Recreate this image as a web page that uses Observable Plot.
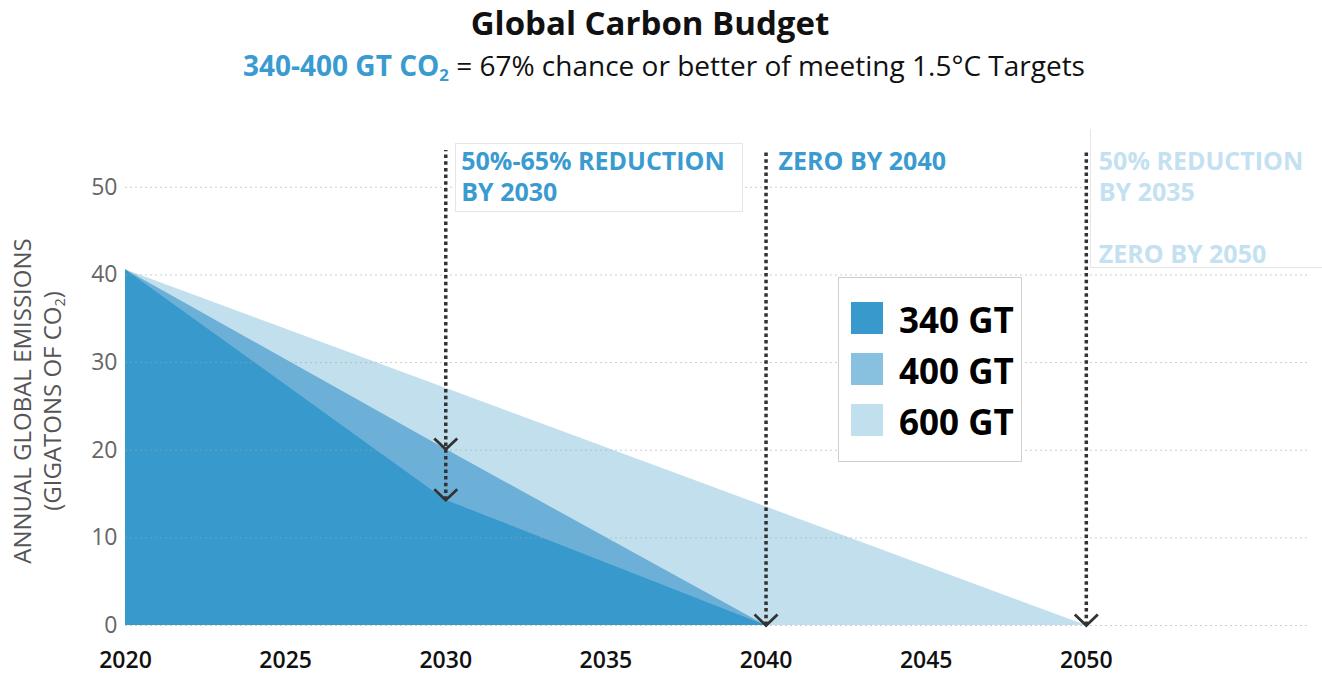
<!DOCTYPE html>
<html>
<head>
<meta charset="utf-8">
<script src="https://cdn.jsdelivr.net/npm/d3@7"></script>
<script src="https://cdn.jsdelivr.net/npm/@observablehq/plot@0.6"></script>
<style>
  html, body { margin: 0; padding: 0; background: #fff; }
  #chart { position: relative; width: 1322px; height: 677px; overflow: hidden; font-family: 'Open Sans', sans-serif; }
  .abs { position: absolute; white-space: nowrap; }
  .title { left: 0; width: 1300px; text-align: center; font-size: 33px; line-height: normal; font-weight: 700; color: #111; }
  .subtitle { left: 0; width: 1328px; text-align: center; font-size: 28px; line-height: normal; font-weight: 400; color: #111; }
  .hl { color: #3a9bd0; font-weight: 700; }
  sub { font-size: 0.6em; vertical-align: -0.3em; line-height: 0; }
  .note { font-size: 25px; line-height: 31px; font-weight: 700; }
  .box { border: 1px solid #e6e6e6; background: #fff; }
  .ylab { font-size: 24px; line-height: 30px; color: #555; text-align: center; transform: rotate(-90deg); transform-origin: center center; }
  .legend { border: 1px solid #cfcfcf; background: #fff; }
  .lrow { position: absolute; left: 12px; height: 32px; }
  .sw { position: absolute; left: 0; top: 0; width: 32px; height: 32px; }
  .lt { position: absolute; left: 48px; top: 2px; font-size: 35px; line-height: 32px; font-weight: 700; color: #000; white-space: nowrap; }
</style>
</head>
<body>
<div id="chart">
  <div class="abs title" style="top:0px">Global Carbon Budget</div>
  <div class="abs subtitle" style="top:45.5px"><span class="hl">340-400 GT CO<sub>2</sub></span> = 67% chance or better of meeting 1.5°C Targets</div>
</div>
<script>
// ---- data ----
const budgets = ["340 GT", "400 GT", "600 GT"];
const areaColors = ["#3799cc", "#6cb0d8", "#c2dfee"];
const legendColors = ["#3799cc", "#88c1e0", "#c2dfee"];

const years340 = [2020, 2030, 2040];
const values340 = [40.6, 14.3, 0];
const years400 = [2020, 2030, 2040];
const values400 = [40.6, 20.1, 0];
const years600 = [2020, 2050];
const values600 = [40.6, 0];

const xTicks = [2020, 2025, 2030, 2035, 2040, 2045, 2050];
const yTicks = [0, 10, 20, 30, 40, 50];

const markerYears = [2030, 2040, 2050];
const markerTop = 54.2;
const markerBottoms = [14.3, 0, 0];
const headYears = [2030, 2030, 2040, 2050];
const headValues = [20.1, 14.3, 0, 0];

const notes = [
  {year: 2030, lines: ["50%-65% REDUCTION", "BY 2030"], color: "#3a9bd0"},
  {year: 2040, lines: ["ZERO BY 2040"], color: "#3a9bd0"},
  {year: 2050, lines: ["50% REDUCTION", "BY 2035", "", "ZERO BY 2050"], color: "#c4e1f1"}
];

// ---- build tables ----
const toRows = (xs, ys) => xs.map((x, i) => ({year: x, value: ys[i]}));
const d340 = toRows(years340, values340);
const d400 = toRows(years400, values400);
const d600 = toRows(years600, values600);
const rules = markerYears.map((y, i) => ({year: y, y1: markerBottoms[i], y2: markerTop}));
const heads = toRows(headYears, headValues);

const chevron = {
  draw(ctx, size) {
    const r = Math.sqrt(size / Math.PI);
    ctx.moveTo(-r, -r * 0.95);
    ctx.lineTo(0, 0);
    ctx.lineTo(r, -r * 0.95);
  }
};

const TOP = 85;
const plot = Plot.plot({
  width: 1322,
  height: 592,
  marginTop: 58,
  marginBottom: 52,
  marginLeft: 125,
  marginRight: 12,
  style: {fontFamily: "'Open Sans', sans-serif", background: "transparent", overflow: "visible"},
  x: {domain: [2020, 2057]},
  y: {domain: [0, 55]},
  marks: [
    Plot.areaY(d600, {x: "year", y: "value", fill: areaColors[2]}),
    Plot.areaY(d400, {x: "year", y: "value", fill: areaColors[1]}),
    Plot.areaY(d340, {x: "year", y: "value", fill: areaColors[0]}),
    Plot.gridY(yTicks, {stroke: "#9aa", strokeOpacity: 0.55, strokeWidth: 1, strokeDasharray: "2,3"}),
    Plot.axisX(xTicks, {tickSize: 0, tickPadding: 26, fontSize: 23, fontWeight: 600, color: "#111", tickFormat: d => String(d), label: null}),
    Plot.axisY(yTicks, {tickSize: 0, tickPadding: 8, fontSize: 23, color: "#666", label: null}),
    Plot.ruleX(rules, {x: "year", y1: "y1", y2: "y2", stroke: "#333", strokeWidth: 3.5, strokeDasharray: "3.5,3.2"}),
    Plot.dot(heads, {x: "year", y: "value", symbol: chevron, r: 11.5, stroke: "#333", strokeWidth: 2.8, fill: "none", strokeLinejoin: "miter"})
  ]
});
plot.style.position = "absolute";
plot.style.left = "0px";
plot.style.top = TOP + "px";
const chart = document.getElementById("chart");
chart.appendChild(plot);

const sx = plot.scale("x"), sy = plot.scale("y");
const px = v => sx.apply(v);
const py = v => TOP + sy.apply(v);

function addDiv(cls, style, html) {
  const d = document.createElement("div");
  d.className = "abs " + cls;
  Object.assign(d.style, style);
  if (html != null) d.innerHTML = html;
  chart.appendChild(d);
  return d;
}

// annotation boxes
addDiv("box", {left: (px(2030) + 10) + "px", top: py(55) + "px", width: "286px", height: "67px"});
addDiv("box", {left: (px(2050) + 4) + "px", top: (py(55) - 14) + "px", width: "400px", height: "138px", borderTop: "none", borderRight: "none"});

// annotation texts
const noteOffsets = [16, 13, 13];
notes.forEach((n, i) => {
  addDiv("note", {left: (px(n.year) + noteOffsets[i]) + "px", top: (py(55) + 2) + "px", color: n.color},
    n.lines.map(l => l === "" ? "&nbsp;" : l).join("<br>"));
});

// y label
addDiv("ylab", {left: (37 - 200) + "px", top: (401 - 30) + "px", width: "400px", height: "60px"},
  "ANNUAL GLOBAL EMISSIONS<br>(GIGATONS OF CO<sub>2</sub>)");

// legend
const lg = addDiv("legend", {left: "838px", top: "277px", width: "182px", height: "183px"});
budgets.forEach((b, i) => {
  const row = document.createElement("div");
  row.className = "lrow";
  row.style.top = (24 + i * 51) + "px";
  row.innerHTML = `<div class="sw" style="background:${legendColors[i]}"></div><div class="lt">${b}</div>`;
  lg.appendChild(row);
});
</script>
</body>
</html>
